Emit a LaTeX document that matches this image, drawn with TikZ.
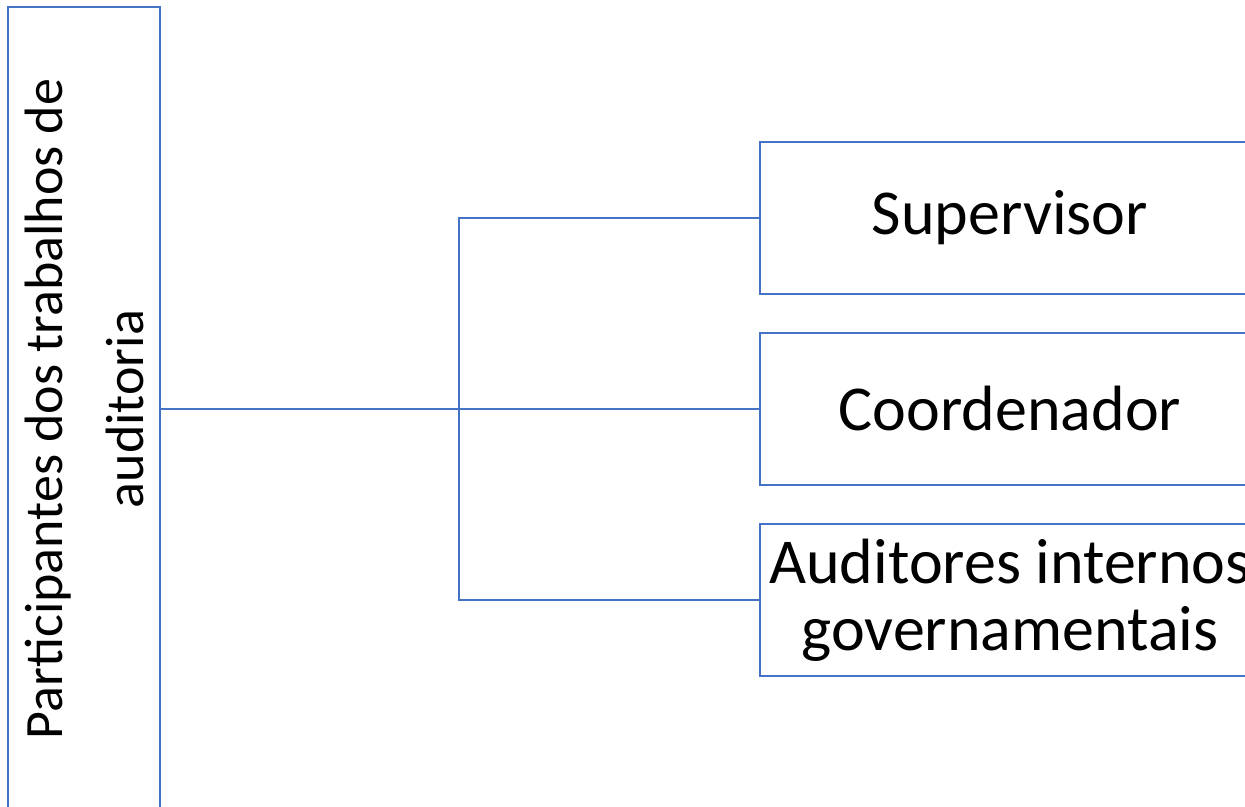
\documentclass[tikz,border=0pt]{standalone}
\usepackage{fontspec}
\setmainfont{Carlito}
\usepackage{tikz}
\usetikzlibrary{positioning}

\definecolor{boxblue}{HTML}{4472C4}

\begin{document}
\begin{tikzpicture}[
            x=1pt, y=-1pt,
            part box/.style={draw=boxblue, line width=2pt, fill=white, outer sep=0pt,
                minimum width=152pt, minimum height=804pt, inner sep=0pt},
            role box/.style={draw=boxblue, line width=2pt, fill=white, outer sep=0pt,
                minimum width=500pt, minimum height=152pt, inner sep=0pt,
                align=center, font=\fontsize{64}{67}\selectfont},
            link/.style={draw=boxblue, line width=2pt},
            ]

            \useasboundingbox (0,0) rectangle (1245,806);
            \clip (0,0) rectangle (1245,806);

            \node[part box] (part) at (84,409) {\rotatebox{90}{\parbox{760pt}{\centering\fontsize{54}{81}\selectfont Participantes dos trabalhos de\\ auditoria}}};

            \node[role box] (sup) at (1010,218) {Supervisor};
            \node[role box] (coord) at (1010,409) {Coordenador};
            \node[role box] (aud) at (1010,600) {Auditores internos\\ governamentais};

            \coordinate (fork) at (459,409);
            \draw[link] (part.east) -- (fork);
            \draw[link] (fork) |- (sup.west);
            \draw[link] (fork) -- (coord.west);
            \draw[link] (fork) |- (aud.west);
        \end{tikzpicture}
\end{document}
